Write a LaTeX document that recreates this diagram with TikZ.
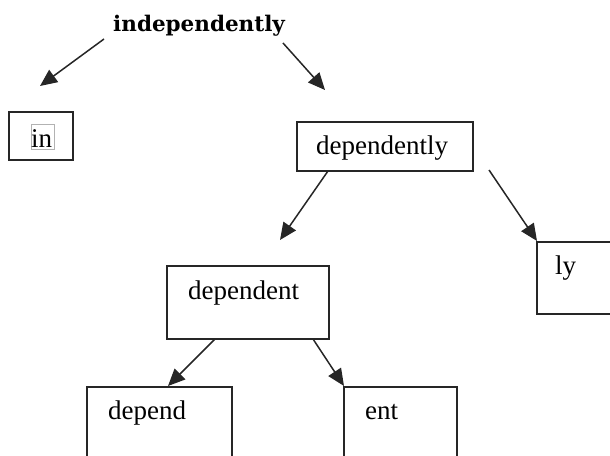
\documentclass[tikz,border=0pt]{standalone}
\usepackage{fontspec}
\setmainfont{Liberation Serif}
\newfontfamily\titlefont{DejaVu Serif}
\usetikzlibrary{arrows.meta}
\begin{document}
\begin{tikzpicture}[x=1pt,y=1pt,
  boxline/.style={draw=black!85,line width=1.5pt},
  word/.style={inner sep=0pt,anchor=base west,font=\fontsize{27}{30}\selectfont},
  conn/.style={draw=black!85,line width=1.5pt,-{Triangle[length=17pt,width=15pt]}}]
\useasboundingbox (0,0) rectangle (610,455);
\clip (0,0) rectangle (610,455);
% boxes
\path[boxline] (9,295) rectangle (73,343);
\path[boxline] (297,284) rectangle (473,333);
\path[boxline] (537,141) rectangle (650,213);
\path[boxline] (167,116) rectangle (329,189);
\path[boxline] (87,-20) rectangle (232,68);
\path[boxline] (344,-20) rectangle (457,68);
\draw[black!30,line width=0.6pt] (31,306) rectangle (54,331);
% texts
\node[inner sep=0pt,anchor=base west,font=\titlefont\bfseries\fontsize{21.5}{25}\selectfont] (root) at (113,423) {independently};
\node[word] (tin) at (31,307) {in};
\node[word] (tdependently) at (316,300) {dependently};
\node[word] (tly) at (555,180) {ly};
\node[word] (tdependent) at (188,155) {dependent};
\node[word] (tdepend) at (108,35) {depend};
\node[word] (tent) at (365,35) {ent};
% connector end points
\coordinate (a1) at (104,416); \coordinate (b1) at (40,369);
\coordinate (a2) at (283,412); \coordinate (b2) at (325,365);
\coordinate (a3) at (328,284); \coordinate (b3) at (280,215);
\coordinate (a4) at (489,285); \coordinate (b4) at (537,214);
\coordinate (a5) at (215,116); \coordinate (b5) at (168,69);
\coordinate (a6) at (313,116); \coordinate (b6) at (344,69);
\draw[conn] (a1) -- (b1);
\draw[conn] (a2) -- (b2);
\draw[conn] (a3) -- (b3);
\draw[conn] (a4) -- (b4);
\draw[conn] (a5) -- (b5);
\draw[conn] (a6) -- (b6);
\end{tikzpicture}
\end{document}
